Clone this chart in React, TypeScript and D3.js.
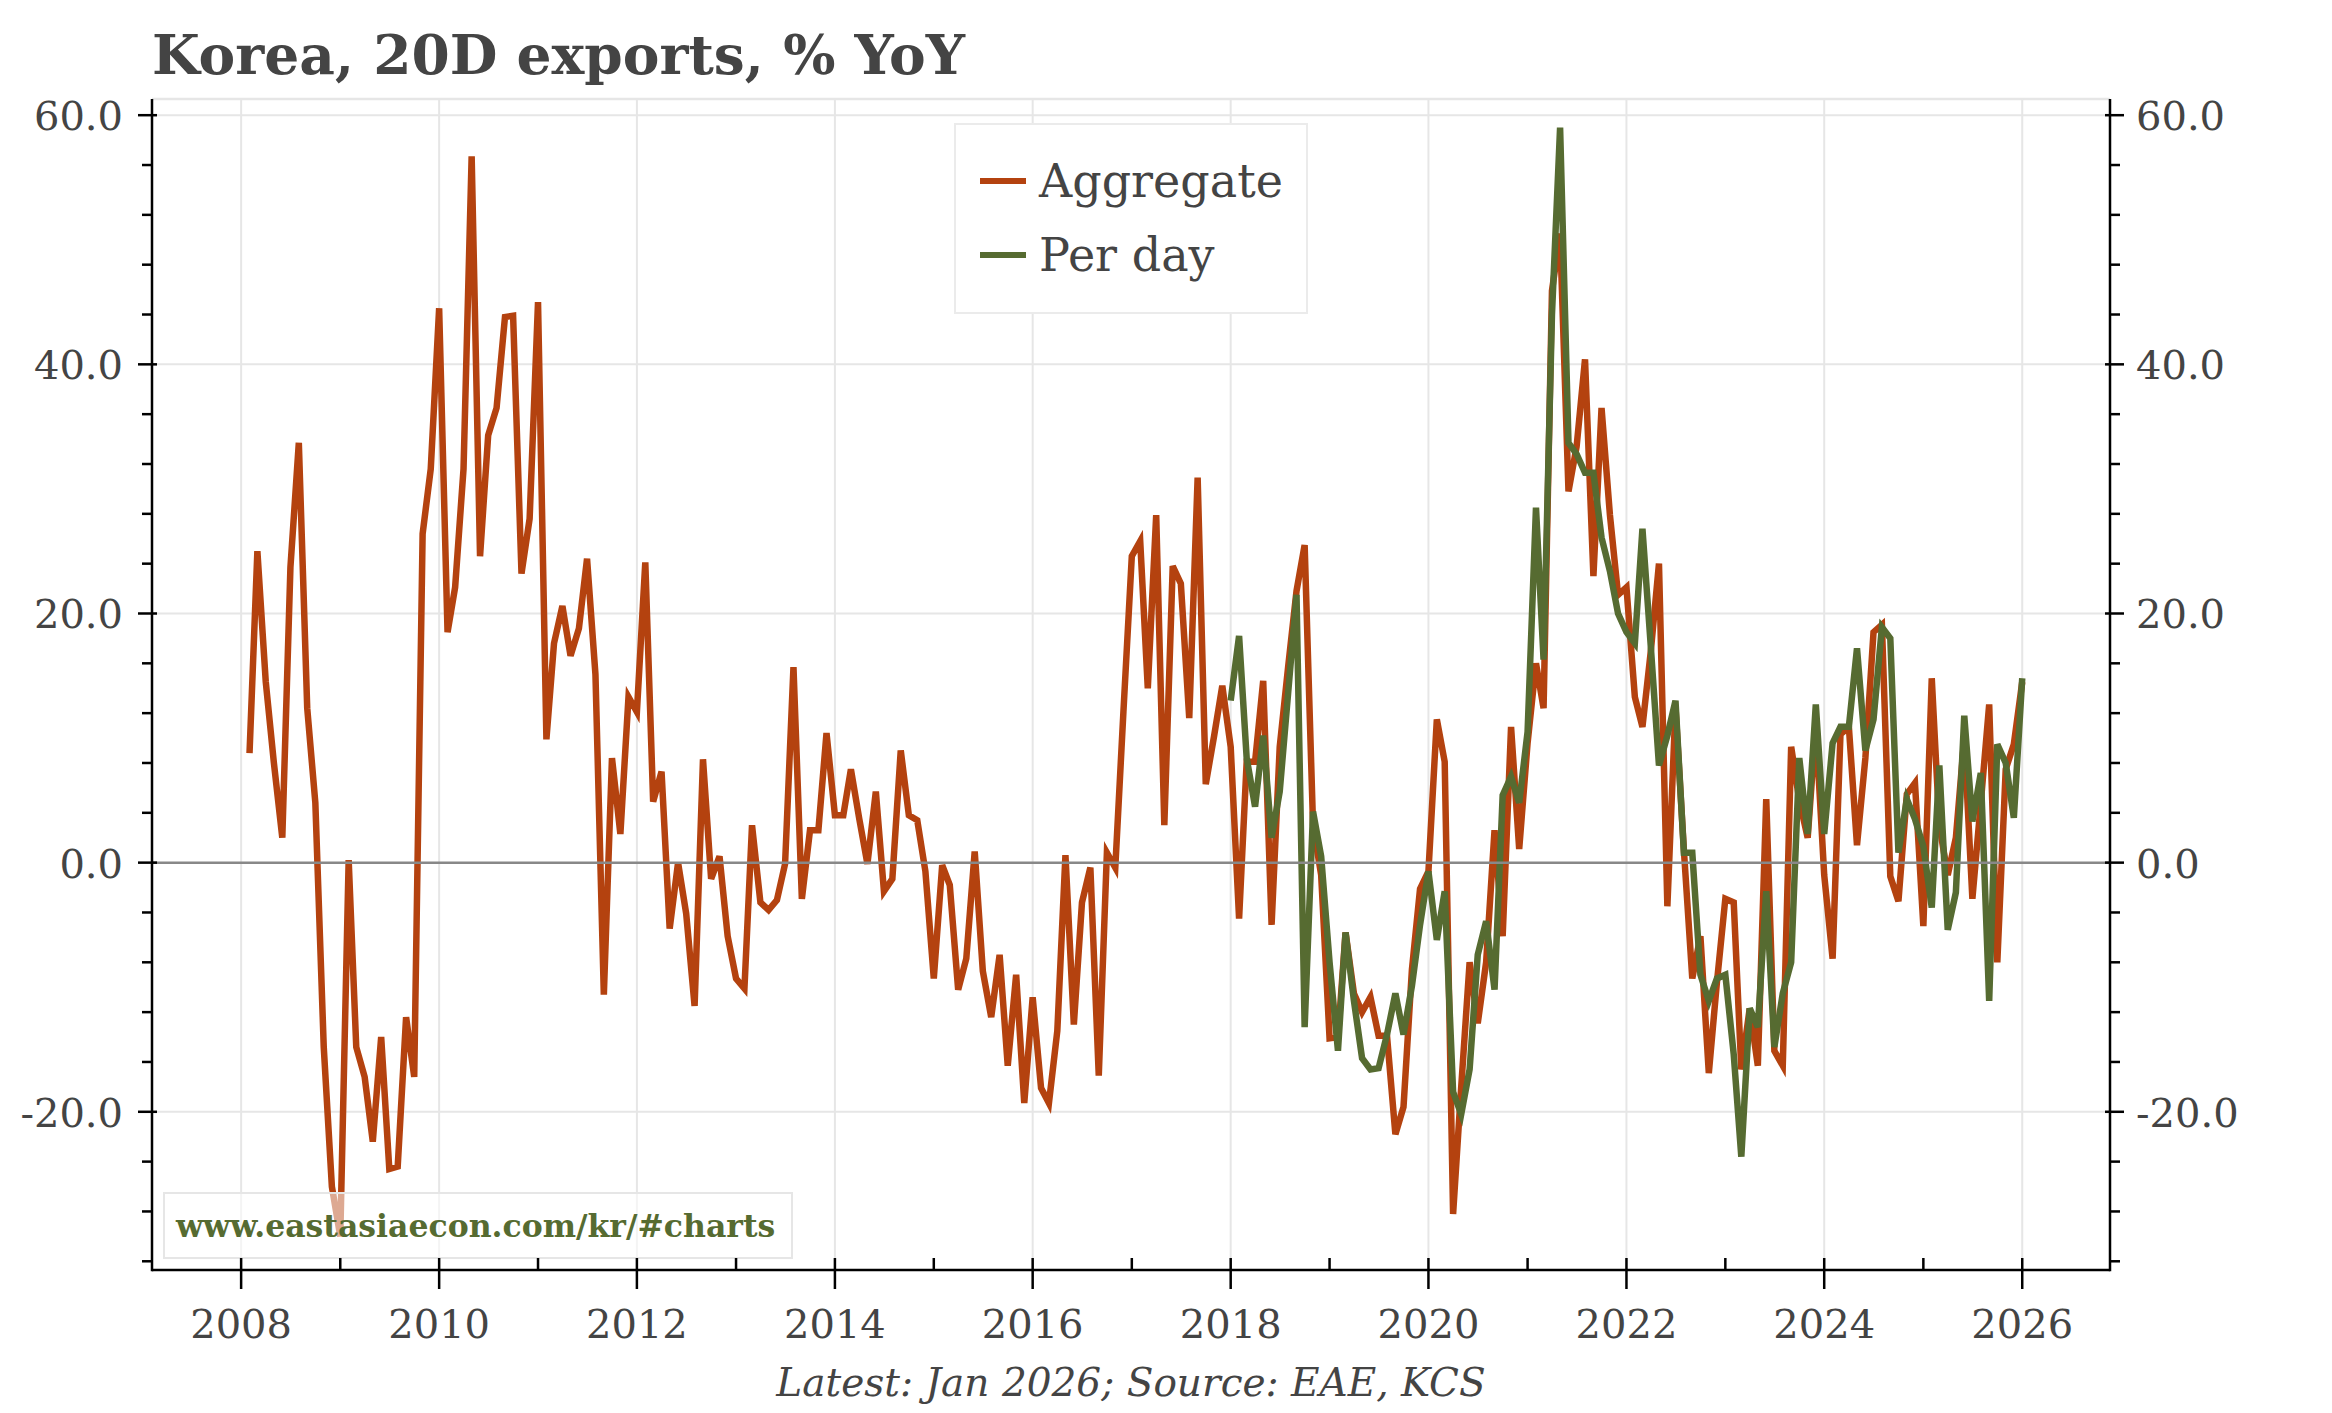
import * as d3 from 'd3'

// Korea 20-day exports, % YoY, monthly from Feb 2008
const aggregateStart = new Date(2008, 1, 1)
const aggregate = [
  // 2008 Feb-Dec
  8.8, 25.0, 14.5, 8.0, 2.0, 23.7, 33.7, 12.4, 4.8, -14.8, -26.0,
  // 2009
  -30.0, 0.2, -14.8, -17.2, -22.4, -14.0, -24.6, -24.4, -12.4, -17.2, 26.4, 31.6,
  // 2010
  44.5, 18.5, 22.1, 31.6, 56.7, 24.6, 34.3, 36.5, 43.8, 43.9, 23.2, 27.6,
  // 2011
  45.0, 9.9, 17.6, 20.6, 16.6, 18.8, 24.4, 15.1, -10.6, 8.4, 2.3, 13.3,
  // 2012
  12.1, 24.1, 4.9, 7.3, -5.3, 0.0, -4.1, -11.5, 8.3, -1.3, 0.5, -5.9,
  // 2013
  -9.3, -10.1, 3.0, -3.2, -3.8, -3.0, -0.1, 15.7, -2.9, 2.6, 2.6, 10.4,
  // 2014
  3.8, 3.8, 7.5, 3.5, -0.1, 5.7, -2.3, -1.3, 9.0, 3.8, 3.4, -0.7,
  // 2015
  -9.3, -0.2, -1.8, -10.2, -7.7, 0.9, -8.7, -12.4, -7.4, -16.3, -9.0, -19.3,
  // 2016
  -10.8, -18.1, -19.3, -13.5, 0.6, -13.0, -3.2, -0.4, -17.1, 0.8, -0.4, 12.1,
  // 2017
  24.6, 25.8, 14.0, 27.9, 3.0, 23.8, 22.4, 11.6, 30.9, 6.3, 10.2, 14.2,
  // 2018
  9.3, -4.5, 8.1, 8.1, 14.6, -5.0, 9.3, 15.7, 21.8, 25.5, 3.0, -1.0,
  // 2019
  -14.1, -14.0, -5.6, -10.5, -12.0, -10.8, -13.9, -13.9, -21.8, -19.6, -8.6, -2.1,
  // 2020
  -0.7, 11.5, 8.1, -28.2, -18.0, -8.0, -12.9, -8.0, 2.6, -5.9, 10.9, 1.1,
  // 2021
  9.6, 16.0, 12.4, 45.9, 50.5, 29.8, 33.4, 40.4, 23.0, 36.5, 27.9, 21.5,
  // 2022
  22.1, 13.3, 10.9, 17.0, 24.0, -3.5, 12.5, 1.0, -9.3, -5.9, -16.9, -9.6,
  // 2023
  -2.9, -3.2, -16.6, -11.7, -16.3, 5.1, -15.1, -16.3, 9.3, 5.0, 2.0, 11.0,
  // 2024
  -1.0, -7.7, 10.3, 10.9, 1.4, 8.4, 18.5, 19.1, -1.1, -3.1, 5.5, 6.4,
  // 2025
  -5.1, 14.8, 3.0, -1.0, 2.0, 10.0, -2.9, 4.8, 12.7, -8.0, 7.5, 9.5,
  // 2026
  14.5,
]

// Per working day, monthly from Jan 2018
const perDayStart = new Date(2018, 0, 1)
const perDay = [
  // 2018
  13.0, 18.2, 8.4, 4.5, 10.2, 2.0, 5.7, 13.6, 21.5, -13.2, 4.1, 0.5,
  // 2019
  -8.0, -15.1, -5.6, -11.1, -15.7, -16.6, -16.5, -13.8, -10.5, -13.8, -9.9, -5.0,
  // 2020
  -0.7, -6.2, -2.3, -18.4, -20.2, -16.6, -7.4, -4.7, -10.2, 5.4, 6.9, 4.8,
  // 2021
  10.5, 28.5, 16.3, 44.0, 59.0, 33.7, 32.8, 31.3, 31.3, 26.1, 23.4, 20.0,
  // 2022
  18.5, 17.6, 26.8, 17.3, 7.8, 10.2, 13.0, 0.8, 0.8, -9.0, -11.1, -9.3,
  // 2023
  -9.0, -15.4, -23.6, -11.7, -13.2, -2.3, -14.8, -10.5, -8.0, 8.4, 2.3, 12.7,
  // 2024
  2.3, 9.6, 10.9, 10.9, 17.2, 9.0, 11.5, 18.9, 18.0, 0.8, 5.1, 3.5,
  // 2025
  1.3, -3.6, 7.8, -5.4, -2.4, 11.8, 3.3, 7.2, -11.1, 9.5, 8.0, 3.6,
  // 2026
  14.8,
]

const seriesNames = ['Aggregate', 'Per day']
const seriesColors = ['#B4420F', '#566B31']
const majorYTicks = [-20, 0, 20, 40, 60]
const majorYears = [2008, 2010, 2012, 2014, 2016, 2018, 2020, 2022, 2024, 2026]
const minorYears = [2009, 2011, 2013, 2015, 2017, 2019, 2021, 2023, 2025]

const W = 2332
const H = 1413
const margin = { top: 99, right: 222, bottom: 143, left: 152 }
const plotR = W - margin.right
const plotB = H - margin.bottom

const FONT = '"DejaVu Serif", "Liberation Serif", serif'
const TEXT = '#444444'

// plain hyphen for negatives, as in the original
const fmt = (v: number) => v.toFixed(1)

export default function App() {
  const x = d3
    .scaleTime()
    .domain([new Date(2007, 1, 6), new Date(2026, 10, 21)])
    .range([margin.left, plotR])

  const y = d3.scaleLinear().domain([-32.7, 61.3]).range([plotB, margin.top])

  const minorYTicks = d3.range(-32, 61, 4).filter((v) => v % 20 !== 0)

  const aggLine = d3
    .line<number>()
    .x((_, i) => x(d3.timeMonth.offset(aggregateStart, i)))
    .y((d) => y(d))
  const dayLine = d3
    .line<number>()
    .x((_, i) => x(d3.timeMonth.offset(perDayStart, i)))
    .y((d) => y(d))

  const yr = (v: number) => x(new Date(v, 0, 1))

  return (
    <svg
      width={W}
      height={H}
      viewBox={`0 0 ${W} ${H}`}
      style={{ position: 'absolute', left: 0, top: 0, background: '#fff' }}
    >
      <rect x={0} y={0} width={W} height={H} fill="#fff" />

      {/* Title */}
      <text x={margin.left} y={74} fontFamily={FONT} fontWeight="bold" fontSize={55} fill={TEXT}>
        Korea, 20D exports, % YoY
      </text>

      {/* Grid */}
      <line x1={margin.left} x2={plotR} y1={margin.top} y2={margin.top} stroke="#e6e6e6" strokeWidth={2.5} />
      {majorYears.map((v) => (
        <line key={'gx' + v} x1={yr(v)} x2={yr(v)} y1={margin.top} y2={plotB} stroke="#e6e6e6" strokeWidth={2} />
      ))}
      {majorYTicks
        .filter((v) => v !== 0)
        .map((v) => (
          <line key={'gy' + v} x1={margin.left} x2={plotR} y1={y(v)} y2={y(v)} stroke="#e6e6e6" strokeWidth={2} />
        ))}

      {/* Series */}
      <path d={aggLine(aggregate) ?? ''} fill="none" stroke={seriesColors[0]} strokeWidth={6.5} />
      <path d={dayLine(perDay) ?? ''} fill="none" stroke={seriesColors[1]} strokeWidth={6.5} />

      {/* Zero line */}
      <line x1={margin.left} x2={plotR} y1={y(0)} y2={y(0)} stroke="#888" strokeWidth={2.5} />

      {/* Watermark */}
      <rect x={164} y={1193} width={628} height={65} fill="#fff" fillOpacity={0.55} stroke="#e6e6e6" strokeWidth={2} />
      <text x={176} y={1237} fontFamily={FONT} fontWeight="bold" fontSize={31.5} fill={seriesColors[1]}>
        www.eastasiaecon.com/kr/#charts
      </text>

      {/* Axes lines */}
      <g stroke="#000" strokeWidth={2.5}>
        <line x1={margin.left} x2={margin.left} y1={margin.top} y2={plotB + 1.25} />
        <line x1={plotR} x2={plotR} y1={margin.top} y2={plotB + 1.25} />
        <line x1={margin.left} x2={plotR} y1={plotB} y2={plotB} />
        {majorYTicks.map((v) => (
          <g key={'my' + v}>
            <line x1={margin.left - 14} x2={margin.left + 5} y1={y(v)} y2={y(v)} />
            <line x1={plotR - 5} x2={plotR + 14} y1={y(v)} y2={y(v)} />
          </g>
        ))}
        {minorYTicks.map((v) => (
          <g key={'ny' + v}>
            <line x1={margin.left - 10} x2={margin.left} y1={y(v)} y2={y(v)} />
            <line x1={plotR} x2={plotR + 10} y1={y(v)} y2={y(v)} />
          </g>
        ))}
        {majorYears.map((v) => (
          <line key={'mx' + v} x1={yr(v)} x2={yr(v)} y1={plotB - 12} y2={plotB + 19} />
        ))}
        {minorYears.map((v) => (
          <line key={'nx' + v} x1={yr(v)} x2={yr(v)} y1={plotB - 12} y2={plotB} />
        ))}
      </g>

      {/* Tick labels */}
      <g fontFamily={FONT} fontSize={40} fill={TEXT}>
        {majorYTicks.map((v) => (
          <g key={'ly' + v}>
            <text x={123} y={y(v) + 15} textAnchor="end">
              {fmt(v)}
            </text>
            <text x={2136} y={y(v) + 15} textAnchor="start">
              {fmt(v)}
            </text>
          </g>
        ))}
        {majorYears.map((v) => (
          <text key={'lx' + v} x={yr(v)} y={1338} textAnchor="middle">
            {v}
          </text>
        ))}
      </g>

      {/* Legend */}
      <rect x={955} y={124} width={352} height={189} fill="#fff" stroke="#ebebeb" strokeWidth={2} />
      {seriesNames.map((name, i) => (
        <g key={name}>
          <line x1={980} x2={1026} y1={181 + i * 74} y2={181 + i * 74} stroke={seriesColors[i]} strokeWidth={6} />
          <text x={1039} y={197 + i * 74} fontFamily={FONT} fontSize={46} fill={TEXT}>
            {name}
          </text>
        </g>
      ))}

      {/* Footer */}
      <text
        x={(margin.left + plotR) / 2}
        y={1396}
        textAnchor="middle"
        fontFamily={FONT}
        fontStyle="italic"
        fontSize={39}
        fill={TEXT}
      >
        Latest: Jan 2026; Source: EAE, KCS
      </text>
    </svg>
  )
}
